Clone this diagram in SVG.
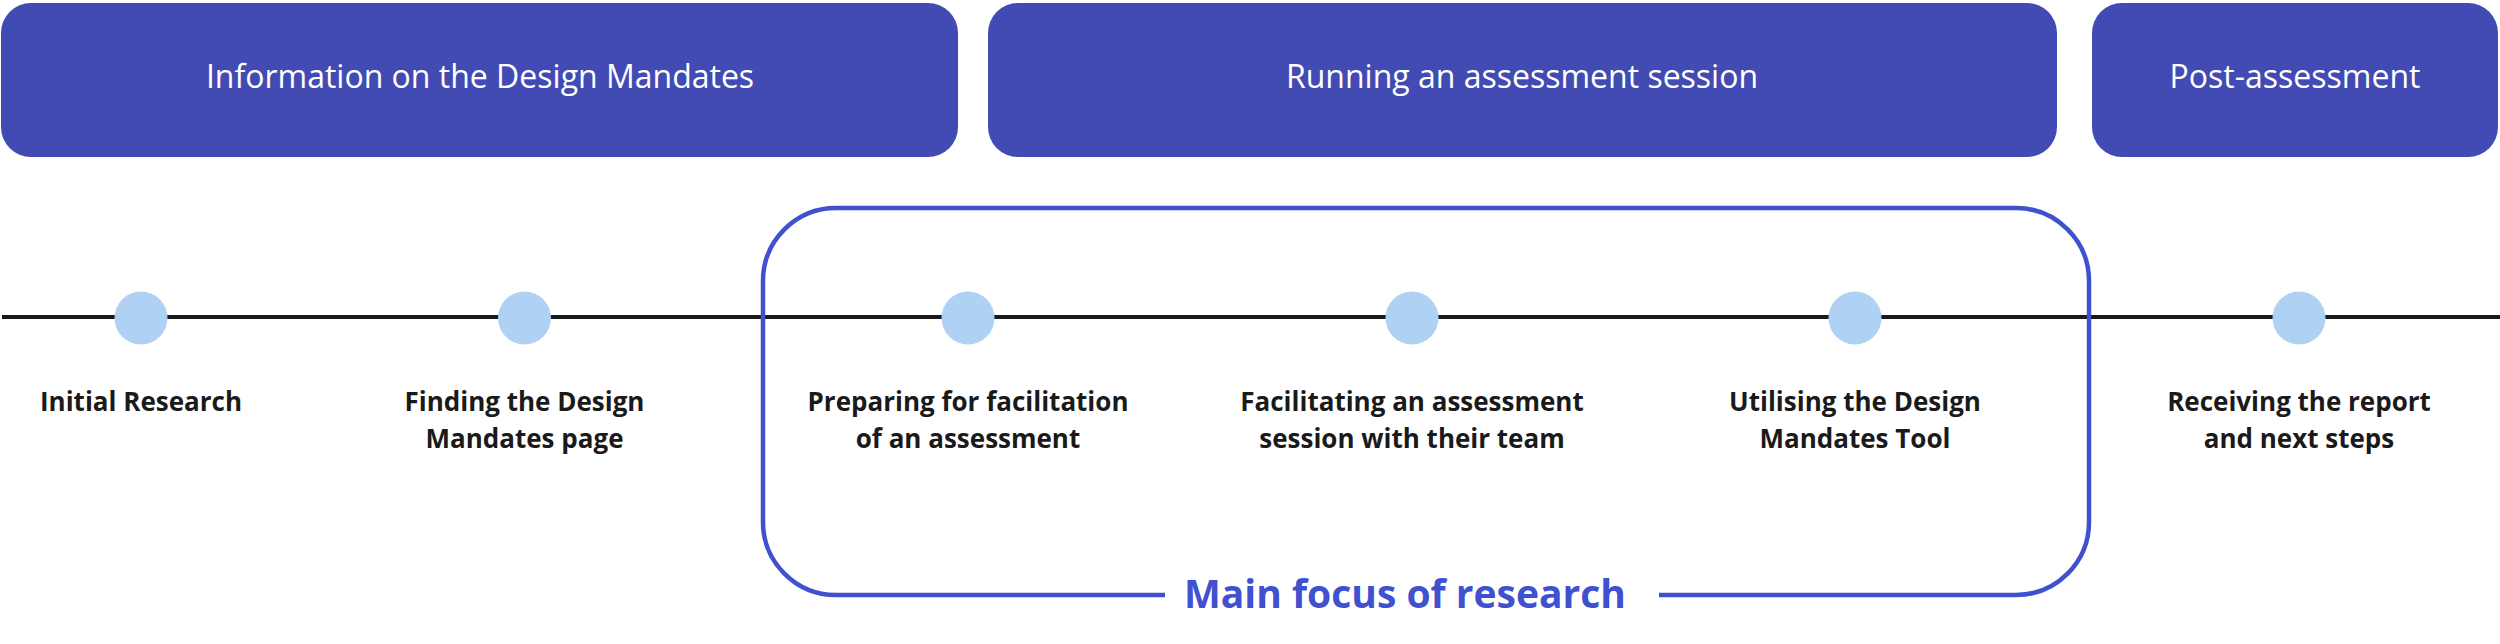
<svg xmlns="http://www.w3.org/2000/svg" width="2500" height="644" viewBox="0 0 2500 644">
  <style>
    .phase { fill: #424bb3; }
    .phase-text { font-family: "Open Sans", "Liberation Sans", sans-serif; font-size: 32px; fill: #ffffff; text-anchor: middle; }
    .dot { fill: #afd2f4; }
    .label { font-family: "Open Sans", "Liberation Sans", sans-serif; font-size: 26px; font-weight: 700; fill: #1a1a1a; text-anchor: middle; }
    .timeline { stroke: #1a1a1a; stroke-width: 4; fill: none; }
    .focus { stroke: #3f51cf; stroke-width: 4.5; fill: none; }
    .focus-text { font-family: "Open Sans", "Liberation Sans", sans-serif; font-size: 39px; font-weight: 700; fill: #3f51cf; }
  </style>
  <rect width="2500" height="644" fill="#ffffff"/>

  <g id="phase-information">
    <rect class="phase" x="1" y="3" width="957" height="154" rx="30" ry="30"/>
    <text class="phase-text" x="480" y="88">Information on the Design Mandates</text>
  </g>
  <g id="phase-running">
    <rect class="phase" x="988" y="3" width="1069" height="154" rx="30" ry="30"/>
    <text class="phase-text" x="1522" y="88">Running an assessment session</text>
  </g>
  <g id="phase-post">
    <rect class="phase" x="2092" y="3" width="406" height="154" rx="30" ry="30"/>
    <text class="phase-text" x="2295" y="88">Post-assessment</text>
  </g>

  <g id="connectors">
    <line class="timeline" x1="2" y1="317" x2="2500" y2="317"/>
  </g>

  <g id="focus-area">
    <path class="focus" d="M1165,595 H836 A73,73 0 0 1 763,522 V281 A73,73 0 0 1 836,208 H2016 A73,73 0 0 1 2089,281 V522 A73,73 0 0 1 2016,595 H1659"/>
    <text class="focus-text" x="1184" y="608">Main focus of research</text>
  </g>

  <g id="step-initial-research">
    <circle class="dot" cx="141" cy="318" r="26.5"/>
    <text class="label" x="141" y="411">Initial Research</text>
  </g>
  <g id="step-finding-page">
    <circle class="dot" cx="524.5" cy="318" r="26.5"/>
    <text class="label" x="524.5" y="411">Finding the Design</text>
    <text class="label" x="524.5" y="448">Mandates page</text>
  </g>
  <g id="step-preparing">
    <circle class="dot" cx="968" cy="318" r="26.5"/>
    <text class="label" x="968" y="411">Preparing for facilitation</text>
    <text class="label" x="968" y="448">of an assessment</text>
  </g>
  <g id="step-facilitating">
    <circle class="dot" cx="1412" cy="318" r="26.5"/>
    <text class="label" x="1412" y="411">Facilitating an assessment</text>
    <text class="label" x="1412" y="448">session with their team</text>
  </g>
  <g id="step-utilising">
    <circle class="dot" cx="1855" cy="318" r="26.5"/>
    <text class="label" x="1855" y="411">Utilising the Design</text>
    <text class="label" x="1855" y="448">Mandates Tool</text>
  </g>
  <g id="step-receiving">
    <circle class="dot" cx="2299" cy="318" r="26.5"/>
    <text class="label" x="2299" y="411">Receiving the report</text>
    <text class="label" x="2299" y="448">and next steps</text>
  </g>
</svg>
